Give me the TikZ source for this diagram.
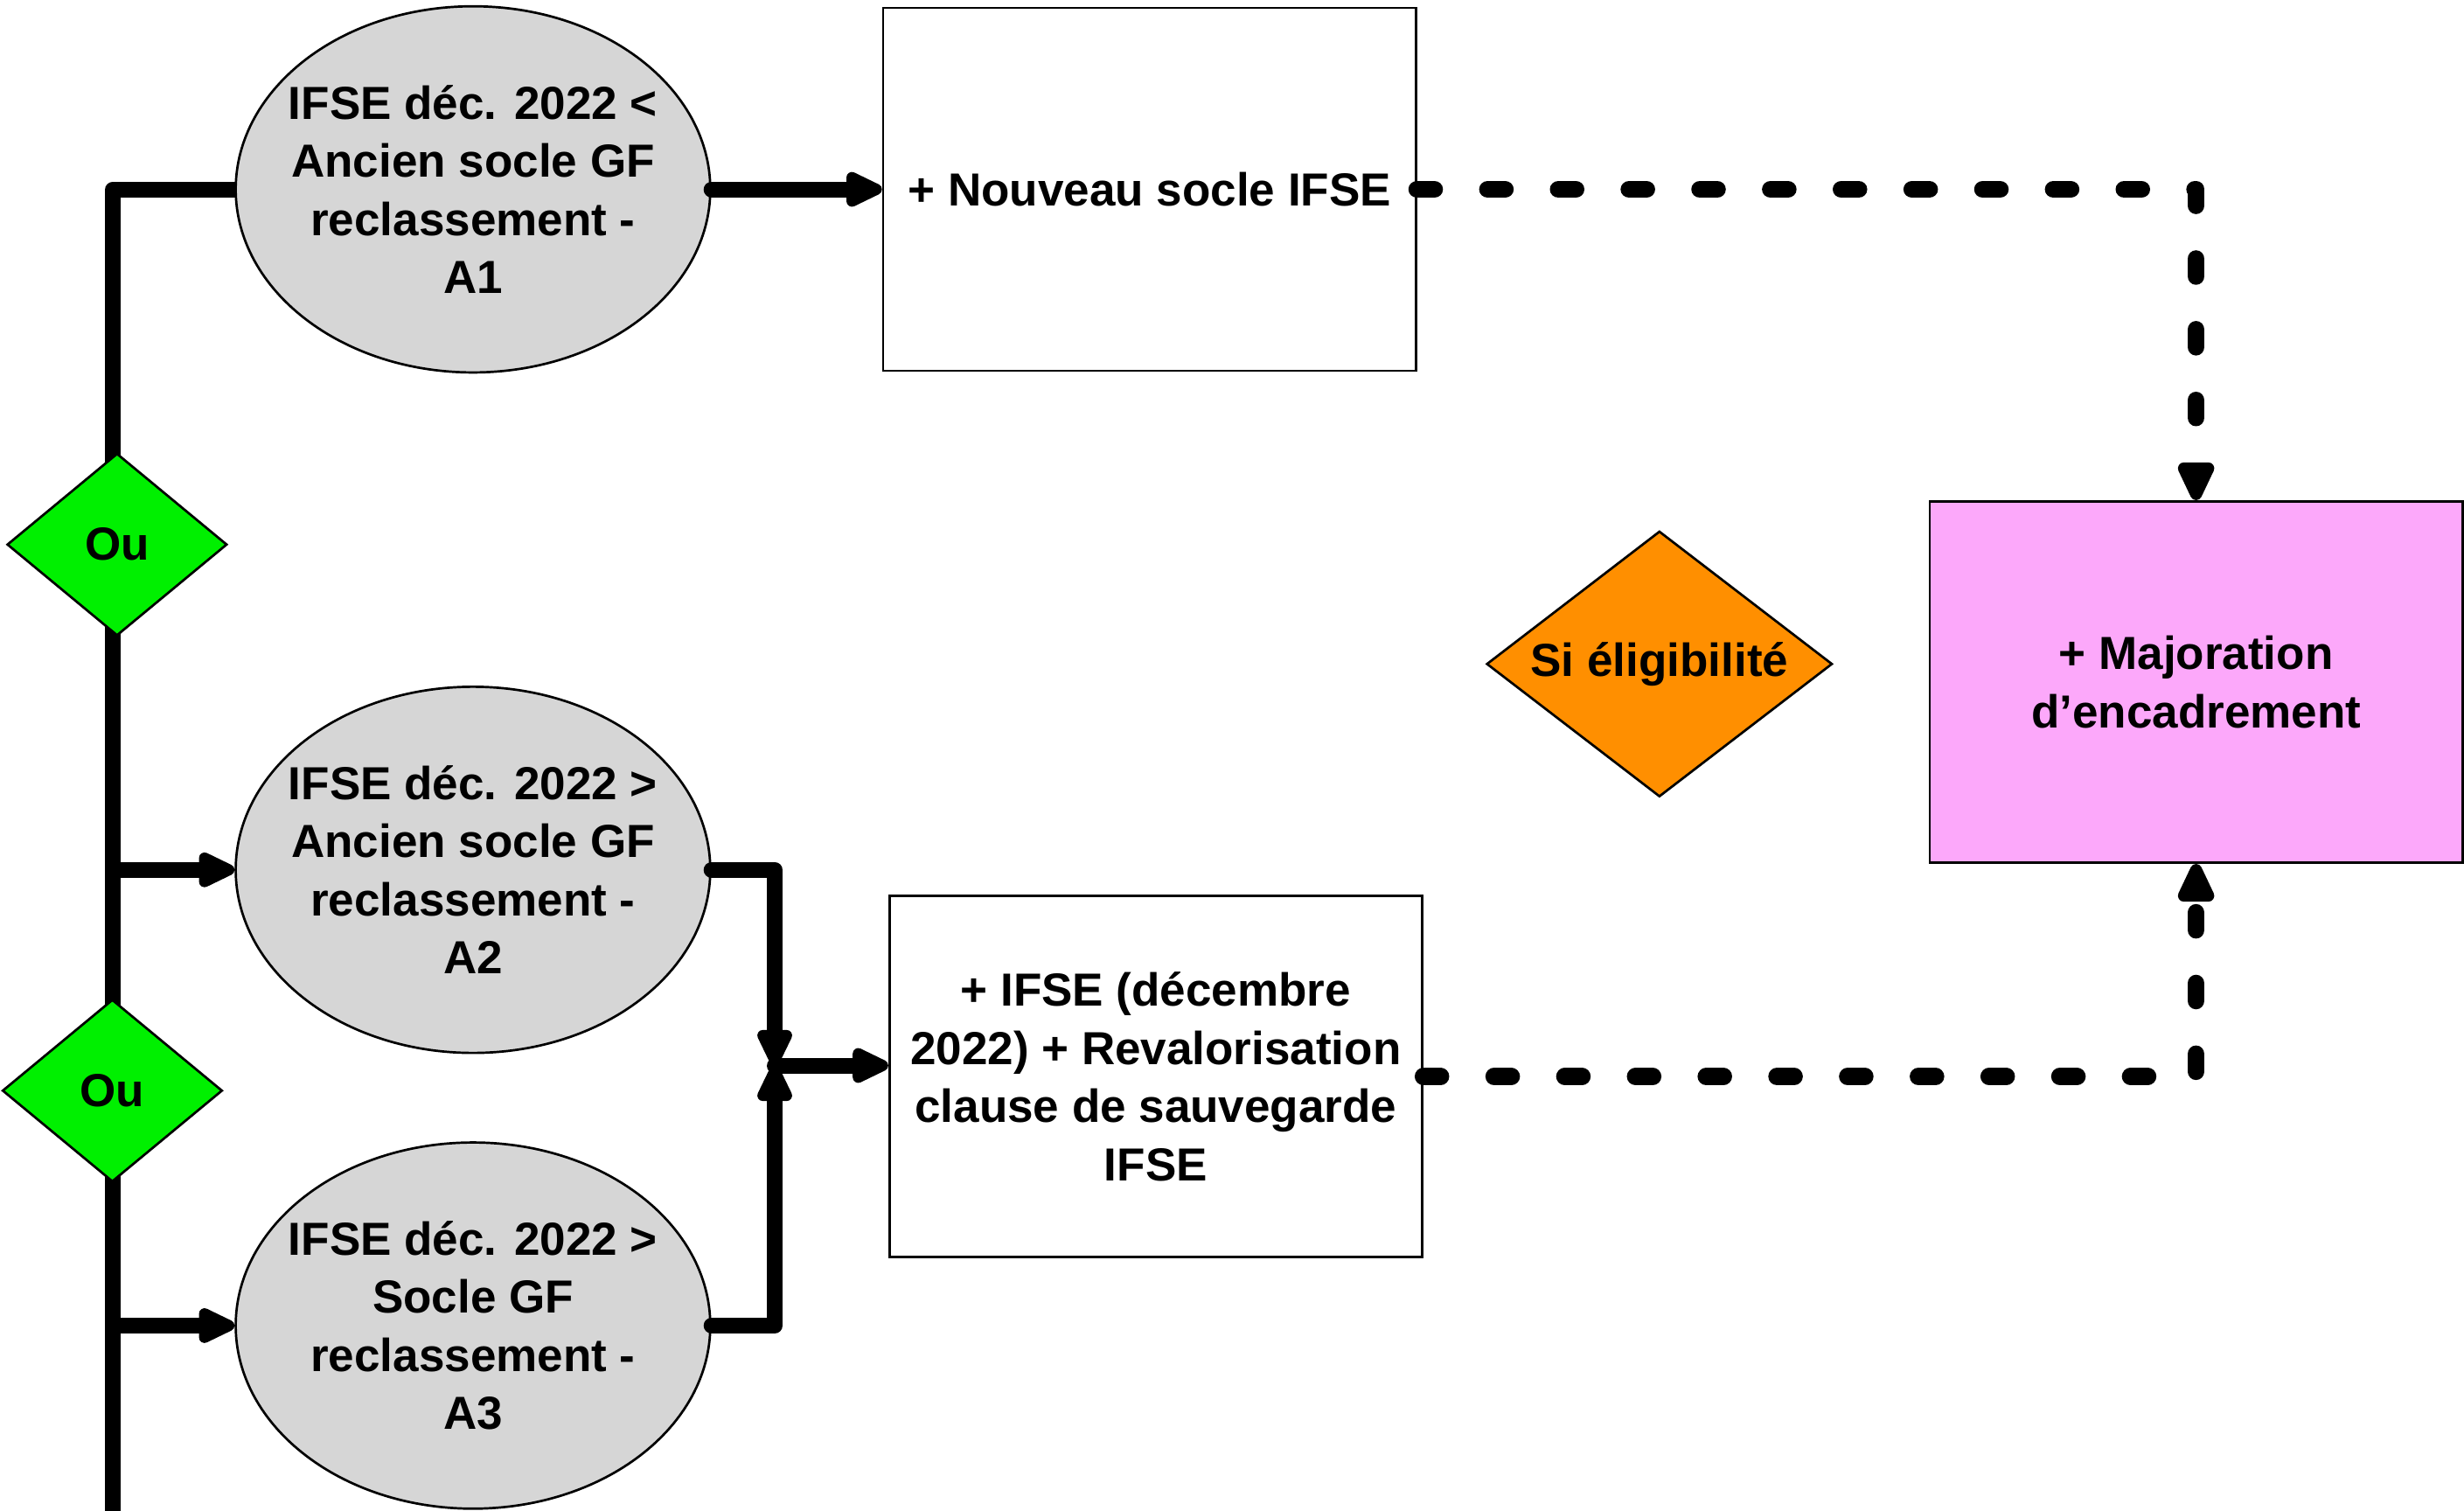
\documentclass[tikz,border=0pt]{standalone}
\usepackage{fontspec}
\setmainfont{Liberation Sans}
\usetikzlibrary{shapes.geometric,arrows.meta,calc}
\pgfdeclarelayer{bg}
\pgfsetlayers{bg,main}
\definecolor{ovalgray}{RGB}{214,214,214}
\definecolor{ougreen}{RGB}{0,240,0}
\definecolor{eliorange}{RGB}{255,143,0}
\definecolor{majpink}{RGB}{252,168,250}
\begin{document}
\begin{tikzpicture}[x=1pt,y=-1pt,
  txt/.style={font=\bfseries\fontsize{29.5}{37}\selectfont, align=center, text=black},
  oval/.style={ellipse, draw=black, line width=1.5pt, fill=ovalgray, minimum width=302pt, minimum height=233pt, inner xsep=-20pt, inner ysep=0pt, txt},
  wbox/.style={rectangle, draw=black, line width=1.5pt, fill=white, minimum width=339pt, minimum height=231pt, inner sep=0pt, txt},
  dia/.style={diamond, draw=black, line width=1.5pt, inner sep=0pt, txt},
  conn/.style={line width=10pt, line cap=round, line join=round},
  arr/.style={conn, -{Triangle[length=28pt,width=24pt,line width=8pt,round]}},
  darr/.style={line width=11pt, line cap=round, line join=round, dash pattern=on 11pt off 34pt, -{Triangle[length=30pt,width=25pt,line width=8pt,round]}}
]
\useasboundingbox (0,0) rectangle (1568,961);

% nodes
\node[oval] (A1) at (301,120.5) {IFSE déc. 2022 <\\Ancien socle GF\\reclassement -\\A1};
\node[oval] (A2) at (301,553.5) {IFSE déc. 2022 >\\Ancien socle GF\\reclassement -\\A2};
\node[oval] (A3) at (301,843.5) {IFSE déc. 2022 >\\Socle GF\\reclassement -\\A3};

\node[dia, fill=ougreen, minimum width=140pt, minimum height=116pt, shape aspect=1.2] (Ou1) at (74.5,346.5) {Ou};
\node[dia, fill=ougreen, minimum width=140pt, minimum height=116pt, shape aspect=1.2] (Ou2) at (71.5,694) {Ou};

\node[wbox] (B1) at (731.5,120.5) {+ Nouveau socle IFSE};
\node[wbox, minimum height=230pt] (B2) at (735.5,685) {+ IFSE (décembre\\2022) + Revalorisation\\clause de sauvegarde\\IFSE};
\node[wbox, fill=majpink, minimum height=230pt] (P) at (1397.5,434) {+ Majoration\\d’encadrement};

\node[dia, fill=eliorange, minimum width=220pt, minimum height=169pt, shape aspect=1.3] (E) at (1056,422.5) {Si éligibilité};

% coordinates
\coordinate (tBot) at (72,975);
\coordinate (J) at (493,678);

% trunk
\begin{pgfonlayer}{bg}
\draw[conn] (A1.west) -| (tBot);
\end{pgfonlayer}

% connectors
\draw[arr] (A1.east) -- (B1.west);
\draw[arr] (A2.west -| tBot) -- (A2.west);
\draw[arr] (A3.west -| tBot) -- (A3.west);
\draw[arr] (A2.east) -| (J);
\draw[arr] (A3.east) -| (J);
\draw[arr] (J) -- (J -| B2.west);

% dashed connectors
\draw[darr] (B1.east) -| (P.north);
\draw[darr] (B2.east) -| (P.south);
\end{tikzpicture}
\end{document}
